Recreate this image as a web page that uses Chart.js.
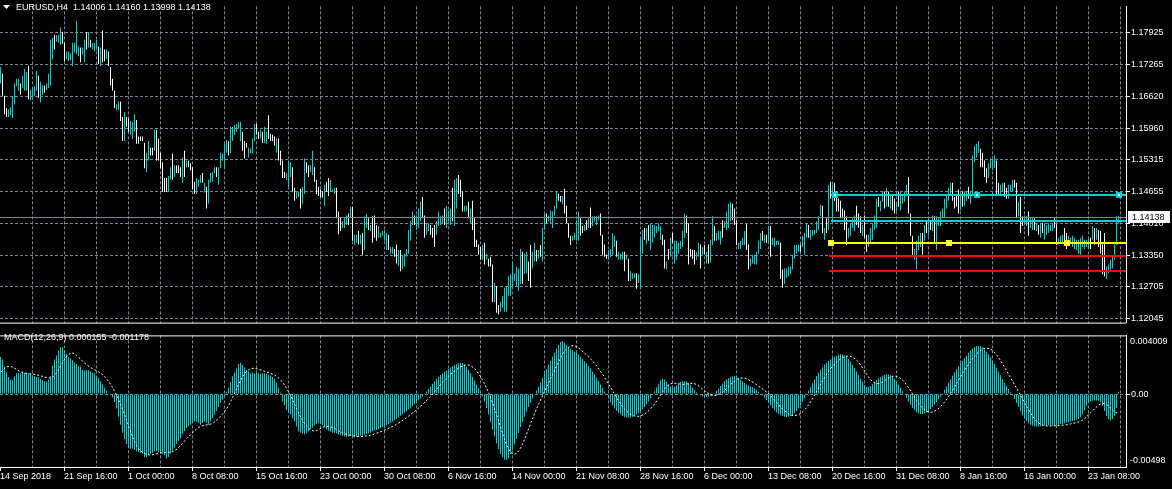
<!DOCTYPE html>
<html>
<head>
<meta charset="utf-8">
<script src="https://cdn.jsdelivr.net/npm/chart.js@4.4.1/dist/chart.umd.min.js"></script>
<style>
  html, body { margin: 0; padding: 0; background: #000; }
  #wrap { position: relative; width: 1172px; height: 489px; background: #000; overflow: hidden; }
  canvas { position: absolute; left: 0; }
  #priceChart { top: 0; }
  #macdChart { top: 329px; }
</style>
</head>
<body>
<div id="wrap">
  <canvas id="priceChart" width="1172" height="329"></canvas>
  <canvas id="macdChart" width="1172" height="160"></canvas>
</div>
<script>
// EURUSD H4 + MACD(12,26,9), MT4 look

const timeLabels = ['14 Sep 2018', '21 Sep 16:00', '1 Oct 00:00', '8 Oct 08:00', '15 Oct 16:00',
  '23 Oct 00:00', '30 Oct 08:00', '6 Nov 16:00', '14 Nov 00:00', '21 Nov 08:00', '28 Nov 16:00',
  '6 Dec 00:00', '13 Dec 08:00', '20 Dec 16:00', '31 Dec 08:00', '8 Jan 16:00', '16 Jan 00:00', '23 Jan 08:00'];

const priceTicks = [1.12045, 1.12705, 1.13350, 1.14010, 1.14655, 1.15315, 1.15960, 1.16620, 1.17265, 1.17925];

const lastOHLC = [1.14006, 1.14160, 1.13998, 1.14138];
const macdLast = [0.000155, -0.001178];

// bar highs / lows in pips above 1.1000 (722 -> 1.1722)
const highs = [
  722,708,663,637,635,639,661,688,698,698, 688,704,718,712,724,675,679,683,714,704,
  692,684,684,688,708,778,782,788,788,788, 803,794,772,754,754,750,772,772,817,764,
  762,762,778,794,794,778,772,772,778,764, 762,797,758,758,754,722,698,673,645,651,
  651,619,629,619,617,611,609,625,613,579, 579,579,566,546,570,556,556,593,593,575,
  546,526,494,494,498,516,544,520,520,520, 516,536,550,530,530,524,516,486,494,490,
  500,504,484,476,490,504,506,516,516,516, 546,544,564,572,570,599,599,603,605,609,
  609,589,570,566,556,554,575,605,605,589, 593,589,599,589,623,585,583,579,575,575,
  550,530,506,504,530,526,516,474,465,466, 472,476,534,526,520,520,550,516,490,476,
  470,466,480,486,494,490,470,474,474,425, 411,405,411,417,421,435,435,377,377,385,
  377,381,415,421,411,397,415,417,397,395, 381,385,387,381,377,352,352,348,357,346,
  346,336,338,348,387,405,425,417,417,431, 445,455,417,401,401,397,391,397,405,425,
  415,417,431,437,427,431,474,490,494,500, 490,466,437,437,445,431,447,411,367,357,
  352,356,361,338,328,332,316,278,272,233, 239,252,268,272,292,296,322,298,312,308,
  348,342,338,342,322,356,342,361,346,346, 356,391,421,421,417,427,425,437,465,461,
  457,457,472,437,401,375,375,381,407,425, 411,395,397,407,411,433,415,415,415,417,
  421,377,357,336,346,348,381,375,365,342, 338,342,342,336,328,302,298,298,298,296,
  371,387,391,391,397,401,397,397,395,401, 395,377,367,322,348,371,381,365,365,361,
  365,385,421,417,401,348,346,346,342,361, 357,352,356,342,357,367,415,395,381,385,
  385,407,405,425,441,445,441,431,407,361, 365,371,385,399,357,328,336,336,342,365,
  381,385,377,377,395,395,371,371,365,365, 361,306,308,308,312,312,336,356,356,357,
  357,375,381,401,397,387,387,387,405,415, 439,437,391,411,480,486,480,484,466,451,
  447,431,427,415,391,401,411,417,437,421, 415,397,417,377,377,391,401,417,451,455,
  447,466,466,474,466,457,457,451,445,466, 465,457,466,480,496,421,375,348,365,375,
  381,381,397,407,411,407,417,415,415,411, 425,431,451,457,474,484,484,455,461,470,
  461,466,466,466,476,466,540,560,564,570, 554,546,530,514,524,534,534,540,530,484,
  480,484,484,474,480,480,490,490,484,445, 455,415,417,415,425,411,411,411,401,397,
  401,401,401,397,401,397,401,411,399,371, 375,377,391,381,375,371,375,371,367,367,
  371,375,367,367,371,371,395,391,391,387, 385,357,381,312,316,326,332,357,415,416
];
const lows = [
  688,663,625,619,619,623,617,645,683,673, 665,679,673,673,655,653,655,663,673,659,
  649,665,669,675,679,684,738,758,774,772, 768,770,734,738,734,736,724,752,748,744,
  732,748,732,758,762,762,758,754,756,728, 724,732,734,738,724,684,673,637,633,633,
  611,570,570,599,589,583,574,589,564,564, 570,570,514,506,530,540,540,550,530,530,
  514,465,465,465,465,490,490,496,504,504, 496,484,496,516,516,510,470,461,461,476,
  484,484,464,431,441,484,486,504,496,480, 514,530,516,546,540,544,570,583,589,595,
  570,550,534,556,536,544,544,570,583,574, 575,566,566,564,574,570,570,560,546,530,
  520,494,494,490,476,496,466,447,451,455, 431,441,461,504,496,506,500,486,461,457,
  455,453,437,465,457,465,465,461,411,378, 385,391,391,397,397,411,365,356,361,357,
  357,336,346,391,387,385,361,371,365,371, 371,375,365,346,346,338,338,332,318,312,
  302,306,312,332,338,365,397,397,387,391, 405,411,371,377,385,377,371,352,377,395,
  397,401,397,391,405,397,405,395,431,461, 455,425,425,425,411,401,387,352,352,336,
  326,326,316,326,312,312,239,239,217,213, 219,227,219,219,252,252,268,282,272,262,
  276,276,296,298,282,268,308,322,322,328, 332,322,387,401,405,401,391,417,431,447,
  445,441,421,401,371,356,365,367,365,365, 375,381,385,387,391,391,395,405,397,407,
  375,336,332,328,326,332,336,352,332,326, 326,326,302,326,282,282,286,288,266,278,
  266,338,367,357,365,346,361,371,381,385, 367,356,308,306,326,332,361,318,326,338,
  348,352,371,381,316,332,328,316,326,332, 308,336,336,318,318,320,356,365,365,367,
  357,371,391,387,391,405,407,397,356,348, 348,356,356,346,306,312,318,316,316,338,
  348,365,361,361,361,332,356,352,356,356, 286,268,276,288,292,296,306,328,338,342,
  342,352,336,371,371,367,375,377,381,387, 415,381,367,381,387,451,405,447,425,425,
  411,411,387,356,371,375,391,385,397,391, 381,375,371,342,352,361,367,387,391,435,
  425,445,431,435,435,431,427,421,425,435, 427,441,445,456,421,375,336,326,306,346,
  352,336,365,381,375,387,385,361,346,395, 395,411,411,431,447,457,447,431,435,421,
  427,435,437,447,451,441,461,526,536,546, 516,516,496,484,494,514,510,514,461,457,
  461,465,455,451,451,466,465,474,411,415, 381,395,397,395,375,391,387,387,385,377,
  371,381,367,377,381,385,385,391,356,357, 361,361,357,348,356,361,352,348,346,338,
  336,352,348,352,348,348,367,357,367,352, 338,296,292,286,298,306,308,326,356,400
];
// u = bull, d = bear, g = doji
const barDirs = (
  'udddu uuuuu duuud uuuud uuduu uuduu udduu uuuuu duudu duuud ' +
  'uddud ddduu ddudd uuudd ddduu ddudd ddddu ududd dudud ddduu ' +
  'ududu uuudu uuuud uuuuu udddu uuudd uduud dddud ddduu udduu ' +
  'duudd uuddd ddudd uugdd duuud uduud uduud udddu uuuud uuddu ' +
  'duuuu uuduu udduu ddduu uuduu uduud dduud udddd dudud ddudd ' +
  'uuuuu uuuuu uduud duudu duudu uuuud duddd duuuu ddudu duuuu ' +
  'ddddu uuudu uudud uuudu uudud uuuuu uddud uduuu uuudd ddduu ' +
  'dudud uuduu uduuu udddu uuudd uuuuu ududu duuuu dduuu uuuuu ' +
  'duuud uuuuu ududu duddd ddddu uuudd duddu uuuud uudud uddud ' +
  'uuuud dduuu ududu duduu uuuuu udddd uduud uuuuu ddddu uuudd ' +
  'uuddu uuddu dduud uudud uduuu uuddu uuddu uuuuu uuuuu dudud ' +
  'ddduu uuuuu').replace(/ /g, '');

// MACD main (histogram) and signal, units of 0.00001
const macdMain = [
  254,236,188,148,117,99,95,122,143,148, 143,155,148,148,143,139,122,122,117,117,
  104,95,88,88,99,122,192,236,264,298, 320,324,302,276,254,243,231,214,205,192,
  188,165,161,165,165,155,148,143,126,110, 88,66,44,22,7,-7,-22,-55,-99,-154,
  -209,-264,-308,-341,-364,-374,-374,-381,-390,-397, -403,-407,-430,-430,-418,-407,-403,-390,-390,-397,
  -403,-407,-418,-440,-430,-407,-385,-364,-341,-319, -301,-275,-253,-231,-220,-209,-198,-187,-187,-198,
  -209,-198,-187,-198,-209,-187,-165,-143,-116,-88, -59,-37,-11,16,44,82,122,148,176,205,
  214,198,183,165,155,143,148,143,148,143, 139,143,143,139,132,126,117,104,77,44,
  11,-50,-77,-110,-121,-139,-165,-187,-220,-253, -264,-270,-275,-268,-255,-240,-228,-215,-205,-200,
  -205,-215,-228,-240,-250,-258,-262,-265,-270,-276, -280,-285,-290,-292,-290,-286,-290,-295,-292,-288,
  -284,-282,-278,-272,-268,-262,-256,-250,-245,-240, -232,-228,-222,-215,-206,-197,-188,-178,-168,-158,
  -148,-138,-128,-118,-106,-94,-82,-70,-56,-42, -28,-14,2,18,34,52,70,88,104,118,
  130,142,152,162,172,182,190,198,205,210, 214,212,200,185,165,142,118,92,66,40,
  14,-14,-50,-95,-140,-190,-240,-290,-335,-375, -408,-432,-448,-450,-440,-410,-380,-345,-305,-265,
  -225,-190,-155,-120,-88,-58,-30,-4,22,50, 80,110,142,172,200,228,255,282,310,335,
  355,362,350,335,322,310,300,290,280,268, 255,240,225,210,192,175,155,135,112,90,
  66,42,18,-6,-30,-55,-78,-98,-115,-128, -138,-148,-155,-160,-162,-160,-155,-148,-140,-130,
  -118,-104,-88,-70,-50,-28,-5,20,45,70, 95,105,98,84,68,52,45,50,60,72,
  82,88,90,86,76,62,45,28,12,0, -8,-14,-18,-20,-18,-12,-4,8,22,38,
  55,72,88,100,110,118,122,124,120,112, 100,88,76,66,58,52,46,38,28,16,
  4,-10,-25,-42,-60,-78,-96,-112,-125,-136, -145,-150,-154,-156,-155,-150,-142,-130,-115,-96,
  -75,-52,-28,-4,22,48,74,100,124,146, 166,184,200,214,226,236,246,255,262,268,
  272,272,266,255,240,222,200,178,155,130, 105,82,62,50,48,55,68,82,96,108,
  118,126,132,135,134,128,118,104,86,66, 44,20,-4,-28,-52,-74,-95,-112,-124,-132,
  -136,-136,-132,-125,-115,-102,-88,-72,-55,-36, -16,5,28,52,78,102,126,150,172,192,
  210,228,246,264,282,298,312,322,328,330, 326,318,305,290,272,252,230,206,180,154,
  128,102,78,56,34,12,-10,-34,-60,-88, -118,-145,-168,-186,-200,-210,-216,-220,-222,-222,
  -220,-218,-216,-214,-214,-215,-216,-216,-214,-210, -206,-205,-200,-196,-192,-188,-184,-180,-176,-170,
  -160,-140,-110,-80,-60,-50,-46,-44,-44,-46, -55,-80,-115,-150,-172,-178,-170,-150,-95,16
];
const macdSignal = [
  150,165,178,186,190,188,182,175,166,158, 152,146,142,140,138,137,136,134,131,128,
  124,120,116,112,110,110,118,132,150,172, 196,220,242,260,272,280,280,274,262,248,
  236,222,210,198,188,180,172,165,158,150, 142,130,116,100,82,62,40,14,-14,-45,
  -78,-112,-150,-188,-225,-262,-298,-330,-356,-376, -390,-400,-407,-412,-415,-416,-414,-411,-408,-405,
  -402,-400,-398,-398,-397,-396,-392,-385,-375,-362, -348,-333,-318,-302,-288,-274,-260,-248,-236,-227,
  -220,-215,-212,-210,-208,-205,-198,-188,-176,-162, -148,-132,-115,-95,-72,-46,-18,12,42,72,
  100,124,144,158,168,174,176,176,172,168, 164,160,155,150,145,140,135,128,120,108,
  94,76,56,34,10,-16,-45,-75,-105,-135, -160,-185,-205,-222,-237,-246,-251,-251,-247,-240,
  -232,-226,-221,-220,-221,-224,-229,-236,-244,-252, -259,-265,-271,-275,-279,-282,-284,-287,-289,-290,
  -290,-289,-287,-285,-283,-280,-276,-271,-266,-261, -256,-250,-245,-239,-233,-226,-219,-212,-204,-196,
  -187,-177,-168,-158,-148,-137,-127,-116,-104,-93, -80,-68,-54,-41,-26,-12,4,20,36,52,
  68,84,99,113,126,139,150,161,170,179, 187,194,198,200,198,192,183,171,155,136,
  114,90,64,35,3,-31,-68,-107,-149,-192, -236,-278,-318,-352,-380,-399,-409,-410,-402,-386,
  -363,-334,-302,-266,-230,-195,-160,-126,-94,-64, -34,-4,25,54,82,111,140,169,198,226,
  253,278,297,312,323,329,331,329,323,313, 301,289,277,264,251,237,222,206,189,170,
  151,131,109,87,65,41,18,-6,-28,-50, -70,-88,-105,-119,-131,-140,-147,-150,-152,-151,
  -148,-142,-134,-124,-111,-97,-81,-64,-44,-23, -1,20,39,54,64,71,74,74,73,70,
  68,67,67,69,72,74,73,70,63,54, 43,32,20,10,1,-6,-9,-10,-7,-2,
  6,16,28,41,54,68,81,92,101,107, 110,110,108,103,96,88,80,71,61,52,
  43,33,23,12,-1,-14,-29,-45,-60,-76, -91,-105,-117,-128,-137,-143,-146,-146,-144,-139,
  -130,-119,-105,-88,-69,-48,-25,-1,23,48, 72,96,118,140,159,177,194,208,221,232,
  242,250,256,259,260,257,251,241,229,213, 195,174,153,132,112,96,84,76,72,72,
  76,83,93,102,111,118,122,123,120,114, 105,93,77,59,39,18,-4,-26,-47,-67,
  -84,-99,-110,-118,-123,-124,-121,-115,-107,-96, -82,-67,-50,-32,-12,10,32,54,77,101,
  123,146,167,188,208,227,245,262,277,290, 301,309,313,314,311,305,295,281,264,245,
  224,202,178,154,130,106,82,58,34,10, -14,-39,-64,-89,-112,-134,-155,-172,-187,-199,
  -207,-213,-216,-218,-218,-218,-217,-217,-216,-215, -213,-212,-211,-209,-206,-203,-200,-197,-194,-190,
  -184,-176,-165,-152,-138,-125,-111,-97,-85,-74, -66,-63,-66,-74,-86,-99,-112,-123,-128,-118
];

// chart objects: horizontal rays (price, first bar, colour) and their anchor bars
const levelPrices = [1.14588, 1.14061, 1.13597, 1.13339, 1.13022];
const levelColors = ['#00CED1', '#00CED1', '#FFFF00', '#FF0000', '#FF0000'];
const levelFrom = [416, 416, 415, 415, 415];
const levelAnchors = [[417, 488, 559], [], [415, 474, 533], [], []];

const SLOTS = 563;             // 560 bars + empty shift on the right
const GRID = '#778899';
const CYAN = '#00CED1';
const FONT_FAMILY = '"Liberation Sans", Arial, sans-serif';
const FONT = { family: FONT_FAMILY, size: 9 };
const bidPrice = lastOHLC[3];

const slotLabels = Array.from({ length: SLOTS }, (_, i) =>
  (i % 32 === 0 && timeLabels[i / 32]) ? timeLabels[i / 32] : '');
const toPrice = v => 1.1 + v / 10000;
const dirColor = { u: CYAN, d: '#FFFFFF', g: '#00FF00' };

const vGrid = c => (c.index > 0 && c.index % 16 === 0) ? GRID : 'rgba(0,0,0,0)';
const vTick = c => (c.index % 32 === 0) ? '#FFFFFF' : 'rgba(0,0,0,0)';

// MT4 draws 1px bars on whole pixel columns
const shiftBars = {
  id: 'shiftBars',
  beforeDatasetDraw(chart, args) {
    if (args.meta.type === 'bar') { chart.ctx.save(); chart.ctx.translate(-0.5, 0); }
  },
  afterDatasetDraw(chart, args) {
    if (args.meta.type === 'bar') chart.ctx.restore();
  }
};

const priceOverlay = {
  id: 'priceOverlay',
  afterDatasetsDraw(chart) {
    const { ctx, chartArea: a, scales: { x, y } } = chart;
    ctx.save();
    const by = Math.round(y.getPixelForValue(bidPrice)) + 0.5;
    ctx.strokeStyle = GRID;
    ctx.lineWidth = 1;
    ctx.beginPath(); ctx.moveTo(a.left, by); ctx.lineTo(a.right, by); ctx.stroke();

    levelPrices.forEach((p, k) => {
      const ly = Math.round(y.getPixelForValue(p));
      const lx = Math.round(x.getPixelForValue(levelFrom[k])) - 2;
      ctx.fillStyle = levelColors[k];
      ctx.fillRect(lx, ly - 1, a.right - lx, 2);
      levelAnchors[k].forEach(i => {
        const ax = Math.round(x.getPixelForValue(i));
        ctx.fillStyle = levelColors[k];
        ctx.fillRect(ax - 3, ly - 3, 6, 6);
        ctx.fillStyle = '#FFFFFF';
        ctx.fillRect(ax - 1, ly - 1, 2, 2);
      });
    });
    ctx.restore();
  },
  afterDraw(chart) {
    const { ctx, chartArea: a, scales: { y } } = chart;
    ctx.save();
    ctx.fillStyle = '#FFFFFF';
    ctx.fillRect(0, a.bottom, a.right, 1);

    // title
    ctx.beginPath(); ctx.moveTo(3, 5); ctx.lineTo(10, 5); ctx.lineTo(6.5, 9); ctx.closePath(); ctx.fill();
    ctx.font = '9px ' + FONT_FAMILY;
    ctx.textBaseline = 'middle';
    ctx.fillText('EURUSD,H4  ' + lastOHLC.map(v => v.toFixed(5)).join(' '), 16, 7.5);

    // bid price box
    const by = y.getPixelForValue(bidPrice);
    ctx.fillRect(a.right + 2, Math.round(by) - 6, 42, 12);
    ctx.fillStyle = '#000000';
    ctx.fillText(bidPrice.toFixed(5), a.right + 6, by + 0.5);
    ctx.restore();
  }
};

const macdOverlay = {
  id: 'macdOverlay',
  afterDraw(chart) {
    const { ctx, chartArea: a, scales: { y } } = chart;
    ctx.save();
    ctx.fillStyle = '#FFFFFF';
    ctx.fillRect(0, a.top, a.right, 1);
    ctx.fillRect(0, a.bottom, a.right, 1);
    ctx.font = '9px ' + FONT_FAMILY;
    ctx.textBaseline = 'middle';
    ctx.fillText('MACD(12,26,9) ' + macdLast.map(v => v.toFixed(6)).join(' '), 4, 9);
    ctx.fillText(y.max.toFixed(6), a.right + 4, a.top + 6);
    ctx.fillText(y.min.toFixed(5), a.right + 4, a.bottom - 6);
    ctx.restore();
  }
};

const baseOptions = {
  responsive: false,
  maintainAspectRatio: false,
  animation: false,
  events: [],
  devicePixelRatio: 1,
  plugins: { legend: { display: false }, tooltip: { enabled: false } }
};

new Chart(document.getElementById('priceChart'), {
  type: 'bar',
  data: {
    labels: slotLabels,
    datasets: [{
      data: lows.map((l, i) => [toPrice(l), toPrice(highs[i])]),
      backgroundColor: lows.map((_, i) => dirColor[barDirs[i]]),
      barThickness: 1,
      borderWidth: 0,
      inflateAmount: 0
    }]
  },
  options: {
    ...baseOptions,
    layout: { padding: 0, autoPadding: false },
    scales: {
      x: {
        afterFit: s => { s.height = 1; },
        ticks: { display: false, autoSkip: false },
        grid: { color: vGrid, drawTicks: false, offset: true },
        border: { display: false, dash: [3, 2] }
      },
      y: {
        position: 'right',
        min: 1.11966,
        max: 1.18466,
        afterBuildTicks: s => { s.ticks = priceTicks.map(v => ({ value: v })); },
        afterFit: s => { s.width = 46; },
        ticks: { color: '#FFFFFF', font: FONT, padding: 1, autoSkip: false, callback: v => v.toFixed(5) },
        grid: { color: GRID, tickColor: '#FFFFFF', tickLength: 4, tickBorderDash: [] },
        border: { display: true, color: '#FFFFFF', dash: [3, 2] }
      }
    }
  },
  plugins: [shiftBars, priceOverlay]
});

new Chart(document.getElementById('macdChart'), {
  type: 'bar',
  data: {
    labels: slotLabels,
    datasets: [{
      type: 'line',
      data: macdSignal.map(v => v / 100000),
      borderColor: '#FFFFFF',
      borderWidth: 1,
      borderDash: [2, 2],
      pointRadius: 0,
      tension: 0,
      order: 0
    }, {
      type: 'bar',
      data: macdMain.map(v => v / 100000),
      backgroundColor: CYAN,
      barThickness: 1,
      borderWidth: 0,
      inflateAmount: 0,
      order: 1
    }]
  },
  options: {
    ...baseOptions,
    layout: { padding: { top: 1 }, autoPadding: false },
    scales: {
      x: {
        afterFit: s => { s.height = 22; },
        ticks: { color: '#FFFFFF', font: FONT, autoSkip: false, maxRotation: 0, align: 'start', labelOffset: -1, padding: 0 },
        grid: { color: vGrid, tickColor: vTick, tickLength: 4, tickBorderDash: [], offset: true },
        border: { display: false, dash: [3, 2] }
      },
      y: {
        position: 'right',
        min: -0.00498,
        max: 0.004009,
        afterBuildTicks: s => { s.ticks = [{ value: 0 }]; },
        afterFit: s => { s.width = 46; },
        ticks: { color: '#FFFFFF', font: FONT, padding: 1, callback: v => v.toFixed(2) },
        grid: { color: GRID, tickColor: '#FFFFFF', tickLength: 4, tickBorderDash: [] },
        border: { display: true, color: '#FFFFFF', dash: [3, 2] }
      }
    }
  },
  plugins: [shiftBars, macdOverlay]
});
</script>
</body>
</html>
